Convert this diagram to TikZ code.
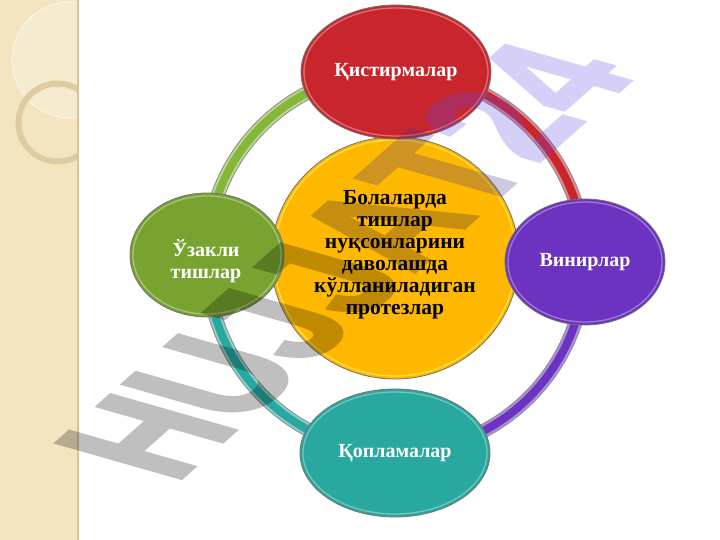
\documentclass[tikz,border=0pt]{standalone}
\usepackage{fontspec}
\setmainfont{Liberation Serif}
\newfontfamily\wmfont{Liberation Sans}[BoldFeatures={FakeBold=2.5}]
\usetikzlibrary{shapes.geometric}
\definecolor{cRed}{RGB}{200,38,44}
\definecolor{cPurple}{RGB}{108,50,192}
\definecolor{cTeal}{RGB}{40,168,158}
\definecolor{cGreen}{RGB}{120,163,48}
\definecolor{cYellow}{RGB}{255,184,0}
\definecolor{tGreen}{RGB}{132,182,56}
\definecolor{stripbg}{RGB}{242,229,192}
\definecolor{stripedge}{RGB}{214,196,150}
\definecolor{ringtan}{RGB}{222,204,160}
\definecolor{wmPurple}{RGB}{95,70,235}
\pgfdeclarelayer{bg}
\pgfdeclarelayer{tubes}
\pgfsetlayers{bg,tubes,main}
\tikzset{
  blob/.style={ellipse, inner sep=0pt, draw=black!55, line width=.8pt},
  lbl/.style={text=white, font=\bfseries\fontsize{20}{22}\selectfont, align=center},
  rim/.style={white, opacity=.35, line width=1.3pt},
  tube/.style={line width=14pt, draw=black!45,
    postaction={draw=#1!55!white, line width=12pt},
    postaction={draw=#1, line width=8pt}}
}
\begin{document}
\begin{tikzpicture}[x=1pt,y=1pt]
\useasboundingbox (0,0) rectangle (720,540);
\begin{pgfonlayer}{bg}
\fill[white] (0,0) rectangle (720,540);
\begin{scope}
\clip (0,0) rectangle (78,540);
\fill[stripbg] (0,0) rectangle (78,540);
\fill[white,opacity=.25] (70,480) circle[radius=58];
\draw[white,opacity=.7,line width=.8pt] (70,480) circle[radius=58];
\draw[ringtan,line width=7pt] (57.5,417.5) circle[radius=38.5];
\draw[white,opacity=.6,line width=.8pt] (57.5,417.5) circle[radius=35.5];
\end{scope}
\draw[stripedge,line width=2pt] (78,0) -- (78,540);
\end{pgfonlayer}

\node[blob, fill=cYellow, minimum width=248pt, minimum height=242pt] (core) at (395,282) {};
\draw[rim, draw=yellow!60!white, opacity=.6] (core.center) ellipse[x radius=121, y radius=118];
\node[font=\bfseries\fontsize{21.5}{22}\selectfont, align=center] (coretxt) at (395,285)
  {Болаларда\\тишлар\\нуқсонларини\\даволашда\\кўлланиладиган\\протезлар};

\node[blob, fill=cRed, minimum width=190pt, minimum height=134pt, lbl] (red) at (396,468) {Қистирмалар};
\draw[rim] (red.center) ellipse[x radius=92, y radius=64];
\node[blob, fill=cPurple, minimum width=160pt, minimum height=126pt, lbl] (purple) at (585,278) {Винирлар};
\draw[rim] (purple.center) ellipse[x radius=77, y radius=60];
\node[blob, fill=cTeal, minimum width=190pt, minimum height=128pt, lbl] (teal) at (395,87) {Қопламалар};
\draw[rim] (teal.center) ellipse[x radius=92, y radius=61];
\node[blob, fill=cGreen, minimum width=154pt, minimum height=124pt] (green) at (207,285) {};
\draw[rim] (green.center) ellipse[x radius=74, y radius=59];
\node[lbl] (greentxt) at (206,279) {Ўзакли\\тишлар};

\begin{pgfonlayer}{tubes}
\draw[tube=tGreen] (red.center) to[bend right=45] (green.center);
\draw[tube=cTeal] (green.center) to[bend right=45] (teal.center);
\draw[tube=cPurple] (teal.center) to[bend right=45] (purple.center);
\draw[tube=cRed] (purple.center) to[bend right=45] (red.center);
\end{pgfonlayer}

\begin{scope}[transparency group, opacity=.25]
\begin{scope}[cm={0.929,0.822,-1.803,0.515,(174.4,55.9)}]
\node[transform shape, anchor=base west, inner sep=0pt,
  font=\wmfont\bfseries\fontsize{100}{100}\selectfont] (wm) at (0,0)
  {\textcolor{black}{HUJJ}\textcolor{black!75!wmPurple}{A}\textcolor{black!40!wmPurple}{T}\textcolor{wmPurple}{24}};
\end{scope}
\end{scope}
\end{tikzpicture}
\end{document}
